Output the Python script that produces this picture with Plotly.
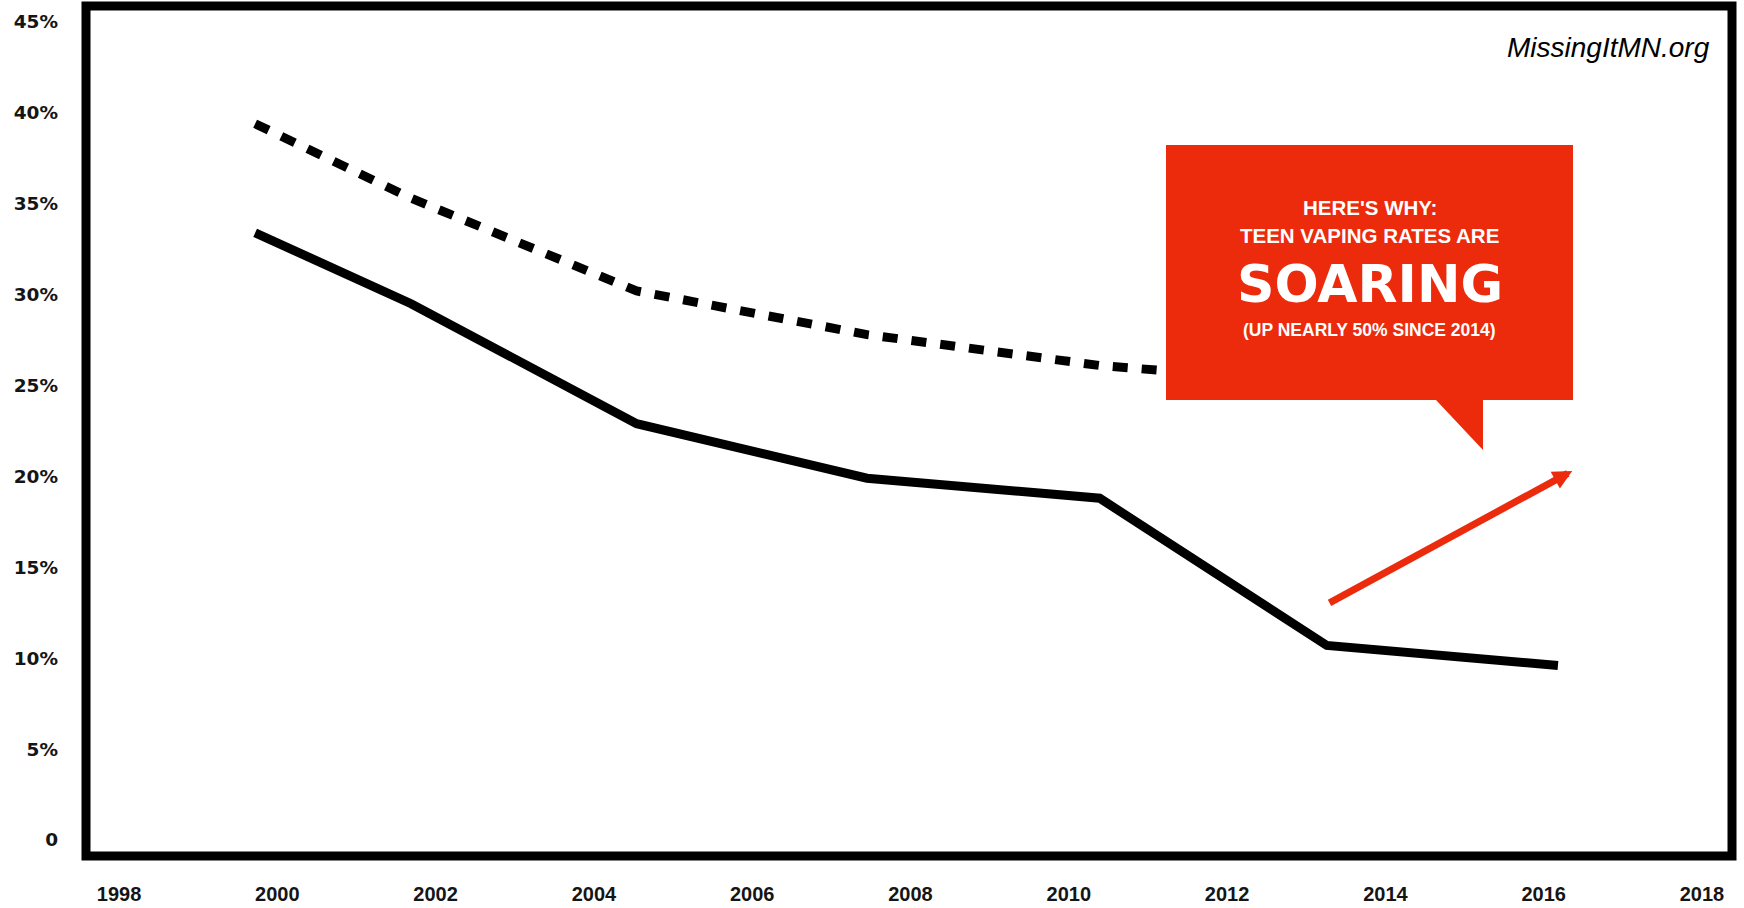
import plotly.graph_objects as go

# ---------------- data ----------------
solid_years = [1999.72, 2001.69, 2004.54, 2007.45, 2010.39, 2013.26, 2016.18]
solid_rates = [33.4, 29.5, 22.9, 19.9, 18.8, 10.7, 9.6]

dashed_years = [1999.72, 2001.69, 2004.54, 2007.45, 2010.39, 2013.26]
dashed_rates = [39.4, 35.3, 30.2, 27.8, 26.1, 25.1]

x_tick_vals = [1998, 2000, 2002, 2004, 2006, 2008, 2010, 2012, 2014, 2016, 2018]
x_tick_text = ["1998", "2000", "2002", "2004", "2006", "2008", "2010", "2012", "2014", "2016", "2018"]
y_tick_vals = [0, 5, 10, 15, 20, 25, 30, 35, 40, 45]
y_tick_text = ["0", "5%", "10%", "15%", "20%", "25%", "30%", "35%", "40%", "45%"]

arrow_from = (2013.275, 13.0)
arrow_to = (2016.36, 20.3)

# ---------------- geometry helpers for decorations ----------------
def px_x(p):
    return 1998 + (p - 119) / 79.15

def px_y(p):
    return (840 - p) / 18.18

RED = "#ec2a0c"

fig = go.Figure()

fig.add_trace(go.Scatter(
    x=dashed_years, y=dashed_rates, mode="lines",
    line=dict(color="black", width=9, dash="15px,14px"),
    hoverinfo="skip"))
fig.add_trace(go.Scatter(
    x=solid_years, y=solid_rates, mode="lines",
    line=dict(color="black", width=9),
    hoverinfo="skip"))

# callout box with tail
bx0, bx1 = px_x(1166), px_x(1573)
by0, by1 = px_y(145), px_y(400)
tl, tr, tip = px_x(1436), px_x(1483), px_y(450)
path = (f"M {bx0},{by0} L {bx1},{by0} L {bx1},{by1} L {tr},{by1} "
        f"L {tr},{tip} L {tl},{by1} L {bx0},{by1} Z")

shapes = [
    dict(type="path", path=path, xref="x", yref="y",
         fillcolor=RED, line=dict(width=0), layer="above"),
    dict(type="rect", xref="paper", yref="paper", x0=0, x1=1, y0=0, y1=1,
         line=dict(color="black", width=9), fillcolor="rgba(0,0,0,0)", layer="above"),
]

cx = px_x(1369.5)
annotations = [
    dict(x=cx, y=px_y(207.5), xref="x", yref="y", text="HERE'S WHY:",
         showarrow=False, xanchor="center", yanchor="middle",
         font=dict(family="Liberation Sans, Arial", size=20.5, color="white", weight="bold")),
    dict(x=cx, y=px_y(235.5), xref="x", yref="y", text="TEEN VAPING RATES ARE",
         showarrow=False, xanchor="center", yanchor="middle",
         font=dict(family="Liberation Sans, Arial", size=20.5, color="white", weight="bold")),
    dict(x=cx, y=px_y(284), xref="x", yref="y", text="SOARING",
         showarrow=False, xanchor="center", yanchor="middle",
         font=dict(family="DejaVu Sans, sans-serif", size=52, color="white", weight="bold")),
    dict(x=cx, y=px_y(329.5), xref="x", yref="y", text="(UP NEARLY 50% SINCE 2014)",
         showarrow=False, xanchor="center", yanchor="middle",
         font=dict(family="Liberation Sans, Arial", size=17.5, color="white", weight="bold")),
    dict(x=px_x(1712), y=px_y(47.5), xref="x", yref="y", text="MissingItMN.org",
         showarrow=False, xanchor="right", yanchor="middle",
         font=dict(family="Liberation Sans, Arial", size=28, color="black", style="italic")),
    dict(x=arrow_to[0], y=arrow_to[1], ax=arrow_from[0], ay=arrow_from[1],
         xref="x", yref="y", axref="x", ayref="y", text="",
         showarrow=True, arrowhead=2, arrowsize=0.55, arrowwidth=7,
         arrowcolor=RED, standoff=0, startstandoff=0),
]

fig.update_layout(
    width=1744, height=908,
    margin=dict(l=86, r=12, t=6, b=52, pad=0, autoexpand=False),
    paper_bgcolor="white", plot_bgcolor="white",
    showlegend=False,
    shapes=shapes, annotations=annotations,
    xaxis=dict(range=[1997.583, 2018.379], tickmode="array",
               tickvals=x_tick_vals, ticktext=x_tick_text, automargin=False,
               showgrid=False, zeroline=False, showline=False, ticks="",
               ticklabelstandoff=24,
               tickfont=dict(family="Liberation Sans, Arial", size=20, color="#151515", weight="bold")),
    yaxis=dict(range=[-0.88, 45.875], tickmode="array",
               tickvals=y_tick_vals, ticktext=y_tick_text, automargin=False,
               showgrid=False, zeroline=False, showline=False, ticks="",
               ticklabelstandoff=27,
               tickfont=dict(family="DejaVu Sans, sans-serif", size=18.5, color="#151515", weight="bold")),
)

fig.write_html("out.html", config={"displayModeBar": False},
               post_script="document.body.style.margin='0';document.body.style.overflow='hidden';")
